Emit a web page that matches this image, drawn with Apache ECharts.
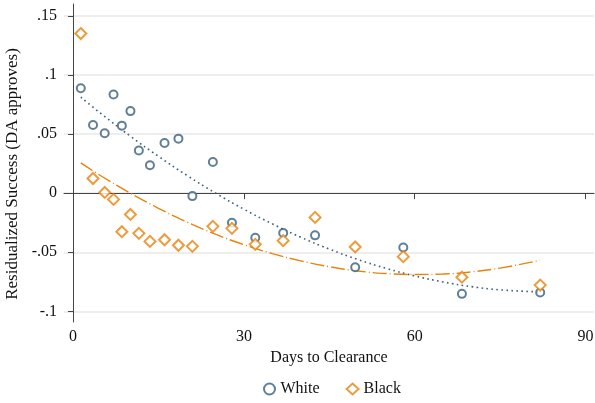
<!DOCTYPE html>
<html>
<head>
<meta charset="utf-8">
<script src="https://cdn.jsdelivr.net/npm/echarts@6/dist/echarts.min.js"></script>
<style>
  html, body { margin: 0; padding: 0; background: #fff; }
  #main { width: 595px; height: 403px; }
</style>
</head>
<body>
<div id="main"></div>
<script>
// binned days to clearance
var days = [1.35, 3.5, 5.55, 7.1, 8.56, 10.07, 11.55, 13.5, 16.06, 18.5,
            20.95, 24.55, 27.9, 32.0, 36.9, 42.5, 49.55, 58.0, 68.3, 82.05];
var white = [0.0888, 0.0576, 0.0506, 0.0835, 0.0571, 0.0694, 0.036, 0.0236, 0.0424, 0.0461,
             -0.0025, 0.0264, -0.025, -0.0377, -0.0337, -0.0357, -0.0627, -0.046, -0.0852, -0.084];
var black = [0.135, 0.0124, 0.0006, -0.0053, -0.0326, -0.018, -0.034, -0.0408, -0.0394, -0.0441,
             -0.045, -0.0281, -0.0298, -0.0433, -0.0402, -0.0205, -0.0455, -0.0537, -0.0711, -0.0778];

// fitted curves
var fitX = [1.35, 5, 10, 15, 20, 25, 30, 35, 40, 45, 50, 55, 60, 65, 70, 75, 82];
var whiteFit = [0.0812, 0.0669, 0.0484, 0.0311, 0.0150, 0.0001, -0.0136, -0.0260, -0.0373,
                -0.0473, -0.0561, -0.0636, -0.0700, -0.0751, -0.0791, -0.0818, -0.0835];
var blackFit = [0.0256, 0.0143, 0.0001, -0.0128, -0.0244, -0.0347, -0.0436, -0.0511, -0.0573,
                -0.0622, -0.0658, -0.0680, -0.0688, -0.0684, -0.0666, -0.0634, -0.0568];

var xTicks = [0, 30, 60, 90];
var yTicks = [-0.1, -0.05, 0, 0.05, 0.1, 0.15];

var navy = '#38607f';
var orange = '#e8830c';
var font = '"Liberation Serif", "Times New Roman", serif';

function pair(xs, ys) {
  return xs.map(function (x, i) { return [x, ys[i]]; });
}

function fmtY(v) {
  var s = String(Math.round(v * 1000) / 1000);
  return s.replace(/^(-?)0\./, '$1.');
}

var chart = echarts.init(document.getElementById('main'));
chart.setOption({
  animation: false,
  backgroundColor: '#fff',
  textStyle: { fontFamily: font },
  grid: { left: 64, right: 1, top: 4, bottom: 81, outerBoundsMode: 'none', containLabel: false },
  legend: {
    bottom: 1,
    left: 258,
    itemGap: 26,
    itemWidth: 12,
    itemHeight: 11,
    data: ['White', 'Black'],
    textStyle: { fontFamily: font, fontSize: 16, color: '#111' }
  },
  xAxis: {
    type: 'value',
    min: -1.6,
    max: 91.5,
    name: 'Days to Clearance',
    nameLocation: 'middle',
    nameGap: 19,
    nameTextStyle: { fontFamily: font, fontSize: 16, color: '#111' },
    axisLine: { show: true, lineStyle: { color: '#444', width: 1 } },
    axisTick: { show: true, length: 6, lineStyle: { color: '#444' }, customValues: xTicks },
    axisLabel: { fontFamily: font, fontSize: 16, color: '#111', margin: 7, customValues: xTicks },
    splitLine: { show: false }
  },
  yAxis: {
    type: 'value',
    min: -0.109,
    max: 0.16,
    name: 'Residualized Success (DA approves)',
    nameLocation: 'middle',
    nameGap: 40,
    nameTextStyle: { fontFamily: font, fontSize: 17, color: '#111', padding: [0, 22, 0, 0] },
    axisLine: { show: true, lineStyle: { color: '#444', width: 1 } },
    axisTick: { show: true, length: 5, lineStyle: { color: '#444' }, customValues: yTicks },
    axisLabel: {
      fontFamily: font, fontSize: 16, color: '#111', margin: 7,
      customValues: yTicks, formatter: fmtY
    },
    splitLine: { show: true, lineStyle: { color: '#e8e8e8', width: 1.5 } }
  },
  series: [
    {
      name: 'White fit',
      type: 'line',
      smooth: true,
      showSymbol: false,
      data: pair(fitX, whiteFit),
      lineStyle: { color: navy, width: 1.6, type: [1.6, 3.4] },
      z: 1
    },
    {
      name: 'Black fit',
      type: 'line',
      smooth: true,
      showSymbol: false,
      data: pair(fitX, blackFit),
      lineStyle: { color: orange, width: 1.4, type: [14, 3, 1, 3] },
      z: 1
    },
    {
      name: 'White',
      type: 'scatter',
      symbol: 'emptyCircle',
      symbolSize: 8,
      data: pair(days, white),
      itemStyle: { color: navy, borderWidth: 1.8 },
      z: 3
    },
    {
      name: 'Black',
      type: 'scatter',
      symbol: 'emptyDiamond',
      symbolSize: 11,
      data: pair(days, black),
      itemStyle: { color: orange, borderWidth: 1.8 },
      z: 3
    }
  ]
});
</script>
</body>
</html>
